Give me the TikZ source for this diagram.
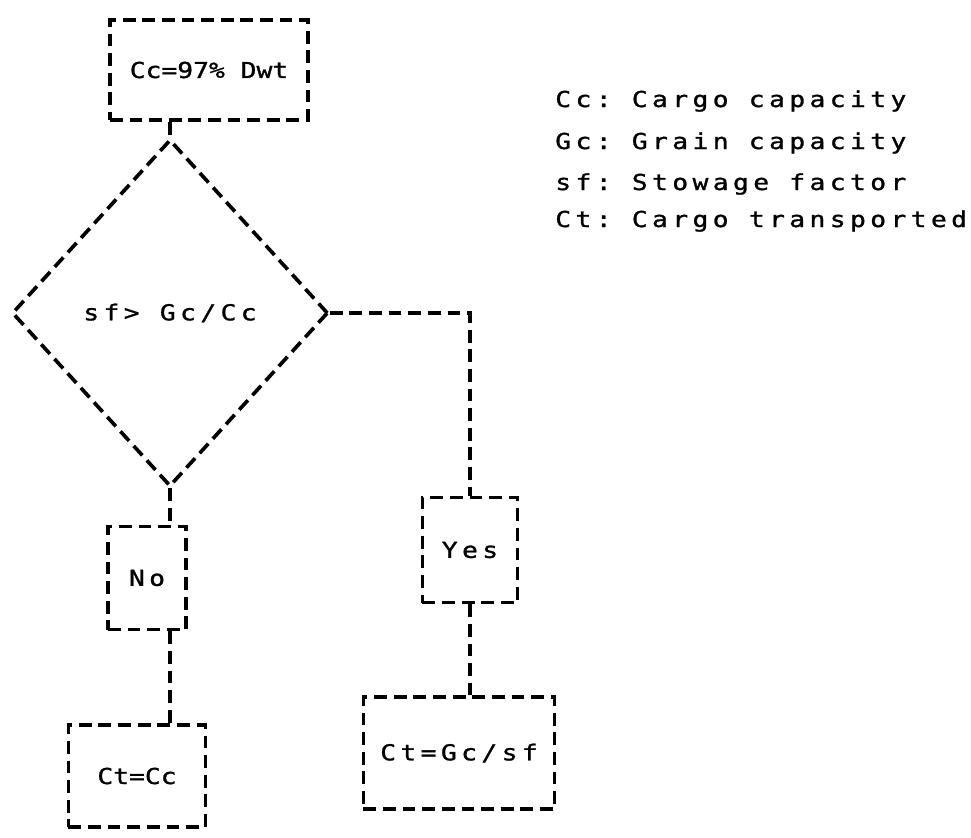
\documentclass[tikz,border=0pt]{standalone}
\usepackage{fontspec}
\setmonofont[FakeStretch=1.2, FakeBold=1.2, LetterSpace=20]{DejaVu Sans Mono}
\usetikzlibrary{shapes.geometric,positioning}

\tikzset{
  flow/.style={draw, line width=2.6pt, dash pattern=on 0.32cm off 0.17cm},
  stepbox/.style={flow, rectangle, inner sep=0pt},
  testbox/.style={flow, diamond, inner sep=0pt},
  tight/.style={font=\ttfamily\fontsize{15.6}{18}\selectfont\addfontfeature{LetterSpace=0}},
  legend/.style={anchor=base west, inner sep=0pt}
}

\begin{document}
\begin{tikzpicture}[x=0.025cm, y=-0.025cm, font=\ttfamily\fontsize{15.6}{18}\selectfont]
    \useasboundingbox (0,0) rectangle (971,837);

    % boxes
    \node[stepbox, tight, minimum width=4.95cm, minimum height=2.5cm] (cap) at (209,70) {Cc=97\% Dwt};
    \node[testbox, minimum width=7.9cm, minimum height=8.675cm] (test) at (170,313) {sf> Gc/Cc};
    \node[stepbox, minimum width=2.375cm, minimum height=2.625cm] (yes) at (470,550) {Yes};
    \node[stepbox, minimum width=1.95cm, minimum height=2.575cm] (no) at (147,578) {No};
    \node[stepbox, minimum width=4.775cm, minimum height=2.8cm] (ctgc) at (459,753) {Ct=Gc/sf};
    \node[stepbox, tight, minimum width=3.425cm, minimum height=2.55cm] (ctcc) at (137,776) {Ct=Cc};

    % connectors
    \draw[flow] (test.north |- cap.south) -- (test.north);
    \draw[flow] (test.east) -| (yes.north);
    \draw[flow] (test.south) -- (test.south |- no.north);
    \draw[flow] (test.south |- no.south) -- (test.south |- ctcc.north);
    \draw[flow] (yes.south) -- (yes.south |- ctgc.north);

    % legend
    \node[legend] (lcc) at (555,107) {Cc: Cargo capacity};
    \node[legend] (lgc) at (555,149) {Gc: Grain capacity};
    \node[legend] (lsf) at (555,190) {sf: Stowage factor};
    \node[legend] (lct) at (555,227) {Ct: Cargo transported};
\end{tikzpicture}
\end{document}
